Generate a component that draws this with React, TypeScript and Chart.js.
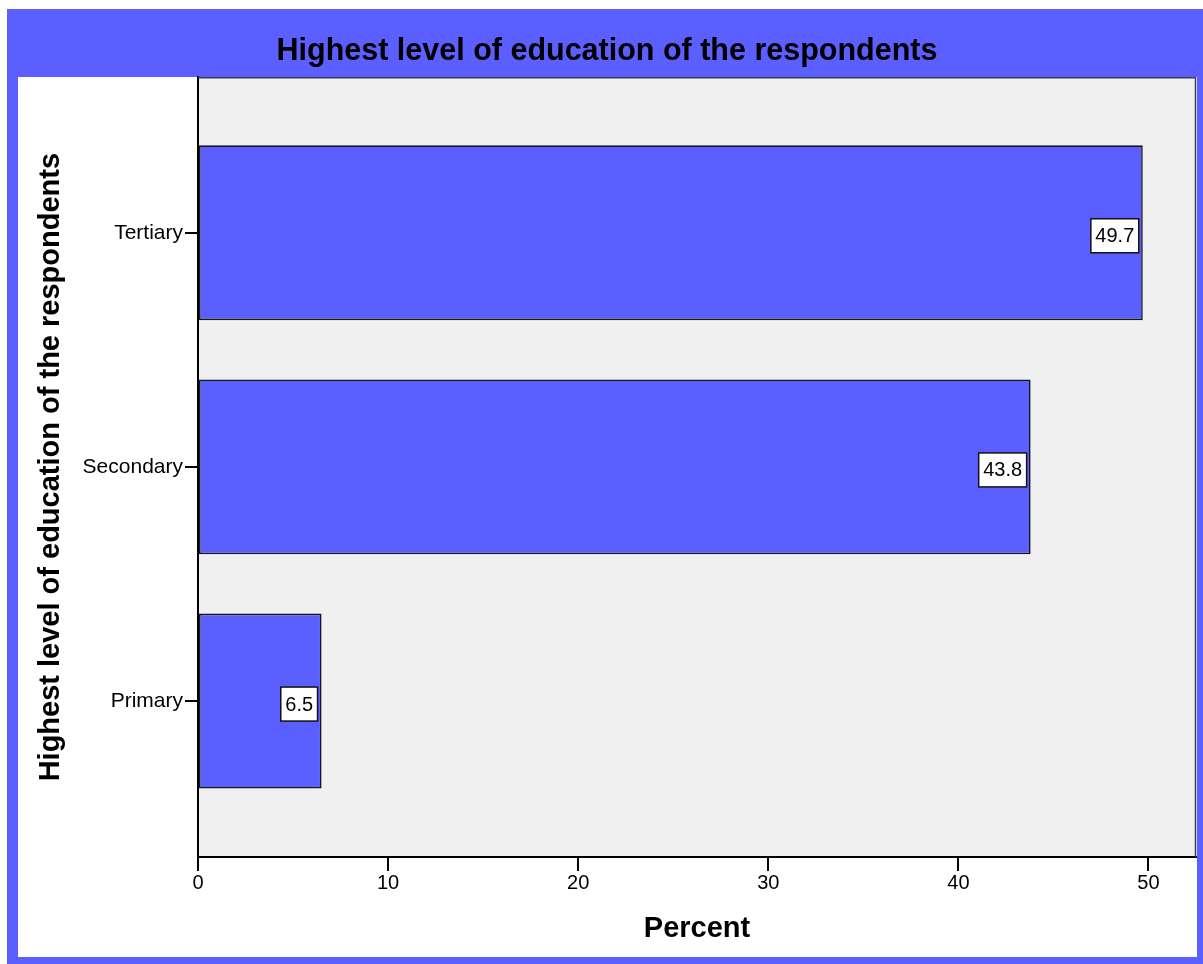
import React, { useEffect, useRef } from "react";
import { Chart, registerables } from "chart.js";

Chart.register(...registerables);

const categories = ["Primary", "Secondary", "Tertiary"];
const percentValues = [6.5, 43.8, 49.7];
const xTickValues = [0, 10, 20, 30, 40, 50];

const chartTitle = "Highest level of education of the respondents";
const yAxisTitle = "Highest level of education of the respondents";
const xAxisTitle = "Percent";

const FONT = '"Liberation Sans", Arial, sans-serif';
const BLUE = "#5c5fff";

const framePlugin = {
  id: "frame",
  beforeDraw(chart: any) {
    const { ctx, width, height, chartArea } = chart;
    ctx.save();
    ctx.fillStyle = "#ffffff";
    ctx.fillRect(0, 0, width, height);
    ctx.fillStyle = BLUE;
    ctx.fillRect(7, 9, width - 7, height - 9);
    ctx.fillStyle = "#ffffff";
    ctx.fillRect(18, 77, 1197 - 18, 957 - 77);
    ctx.fillStyle = "#f0f0f0";
    ctx.fillRect(chartArea.left, chartArea.top, chartArea.right - chartArea.left, chartArea.bottom - chartArea.top);
    ctx.restore();
  },
  afterDraw(chart: any) {
    const { ctx, chartArea } = chart;
    ctx.save();
    ctx.strokeStyle = "#3a3a50";
    ctx.lineWidth = 1.5;
    ctx.beginPath();
    ctx.moveTo(chartArea.left, chartArea.top + 0.5);
    ctx.lineTo(chartArea.right - 0.5, chartArea.top + 0.5);
    ctx.lineTo(chartArea.right - 0.5, chartArea.bottom);
    ctx.stroke();
    ctx.restore();
  },
};

const labelPlugin = {
  id: "valueBoxes",
  afterDatasetsDraw(chart: any) {
    const { ctx } = chart;
    const meta = chart.getDatasetMeta(0);
    ctx.save();
    ctx.font = `20px ${FONT}`;
    meta.data.forEach((bar: any, i: number) => {
      const text = String(percentValues[i]);
      const tw = ctx.measureText(text).width;
      const w = tw + 9;
      const h = 34;
      const right = bar.x - 4;
      const left = right - w;
      const top = bar.y + 3 - h / 2;
      ctx.fillStyle = "#ffffff";
      ctx.fillRect(left, top, w, h);
      ctx.strokeStyle = "#111111";
      ctx.lineWidth = 1.5;
      ctx.strokeRect(left, top, w, h);
      ctx.fillStyle = "#000000";
      ctx.textAlign = "center";
      ctx.textBaseline = "middle";
      ctx.fillText(text, left + w / 2, top + h / 2 + 1);
    });
    ctx.restore();
  },
};

export default function App() {
  const canvasRef = useRef<HTMLCanvasElement | null>(null);

  useEffect(() => {
    document.body.style.margin = "0";
    document.body.style.overflow = "hidden";
    const canvas = canvasRef.current;
    if (!canvas) return;
    const chart = new Chart(canvas, {
      type: "bar",
      data: {
        datasets: [
          {
            data: categories.map((_, i) => ({ x: percentValues[i], y: i })),
            backgroundColor: BLUE,
            borderColor: "#161616",
            borderWidth: 1.6,
            borderSkipped: false,
            categoryPercentage: 1,
            barPercentage: 0.747,
          } as any,
        ],
      },
      options: {
        indexAxis: "y",
        animation: false,
        responsive: false,
        devicePixelRatio: 1,
        layout: { padding: { left: 18, right: 7, top: 9, bottom: 7 } },
        plugins: {
          legend: { display: false },
          tooltip: { enabled: false },
          title: {
            display: true,
            text: chartTitle,
            color: "#000000",
            font: { family: FONT, size: 30.5, weight: "bold", lineHeight: 1.2 },
            padding: { top: 24.5, bottom: 7.2 },
          },
        },
        scales: {
          x: {
            type: "linear",
            min: 0,
            max: 52.5,
            offset: false,
            afterBuildTicks: (s: any) => {
              s.ticks = xTickValues.map((v) => ({ value: v }));
            },
            afterFit: (s: any) => {
              s.height = 100;
            },
            grid: {
              display: true,
              offset: false,
              drawOnChartArea: false,
              drawTicks: true,
              tickLength: 14,
              tickColor: "#000000",
              lineWidth: 2,
            },
            border: { display: true, color: "#000000", width: 2 },
            ticks: {
              color: "#000000",
              font: { family: FONT, size: 20 },
              padding: 0,
              maxRotation: 0,
            },
            title: {
              display: true,
              text: xAxisTitle,
              color: "#000000",
              font: { family: FONT, size: 29, weight: "bold", lineHeight: 1.2 },
              padding: { top: 0, bottom: 11 },
            },
          },
          y: {
            type: "linear",
            min: -0.666,
            max: 2.664,
            offset: false,
            afterBuildTicks: (s: any) => {
              s.ticks = categories.map((_, i) => ({ value: i }));
            },
            afterFit: (s: any) => {
              s.width = 180;
            },
            grid: {
              display: true,
              offset: false,
              drawOnChartArea: false,
              drawTicks: true,
              tickLength: 13,
              tickColor: "#000000",
              lineWidth: 2,
            },
            border: { display: true, color: "#000000", width: 2 },
            ticks: {
              color: "#000000",
              font: { family: FONT, size: 21 },
              padding: 2,
              callback: (value: any) => categories[Math.round(Number(value))] ?? "",
            },
            title: {
              display: true,
              text: yAxisTitle,
              color: "#000000",
              font: { family: FONT, size: 29, weight: "bold", lineHeight: 1.2 },
              padding: { top: 16, bottom: 0 },
            },
          },
        },
      } as any,
      plugins: [framePlugin, labelPlugin],
    });
    return () => chart.destroy();
  }, []);

  return (
    <div style={{ position: "absolute", left: 0, top: 0, width: 1203, height: 964 }}>
      <canvas ref={canvasRef} width={1203} height={964} style={{ display: "block" }} />
    </div>
  );
}
